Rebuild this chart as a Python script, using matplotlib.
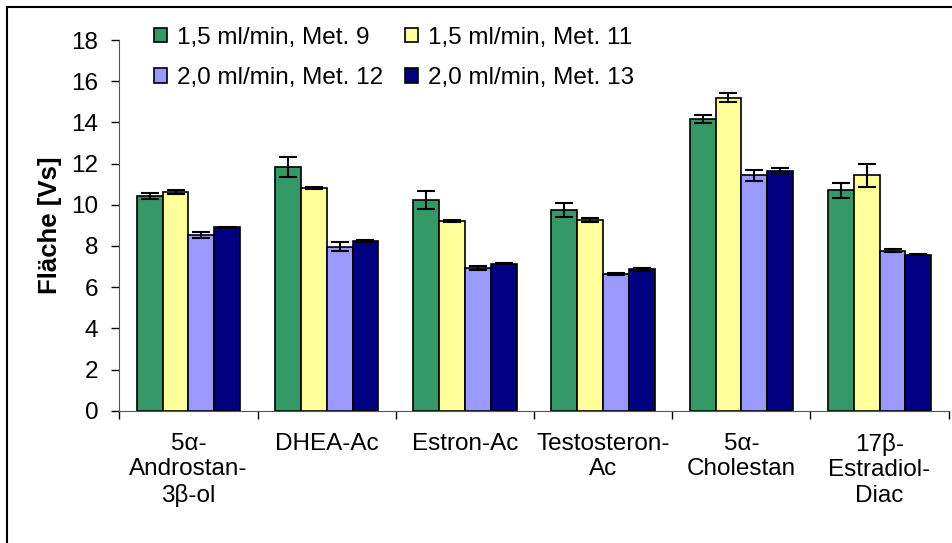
import numpy as np
import matplotlib
matplotlib.use("Agg")
import matplotlib.pyplot as plt
from matplotlib.patches import Rectangle

plt.rcParams['font.family'] = ['Liberation Sans', 'DejaVu Sans']

# Kategorien und Messwerte
substanzen = ["5α-\nAndrostan-\n3β-ol", "DHEA-Ac", "Estron-Ac", "Testosteron-\nAc", "5α-\nCholestan", "17β-\nEstradiol-\nDiac"]
serien = ["1,5 ml/min, Met. 9", "1,5 ml/min, Met. 11", "2,0 ml/min, Met. 12", "2,0 ml/min, Met. 13"]
met9 = [10.44, 11.82, 10.23, 9.74, 14.18, 10.70]
met11 = [10.60, 10.80, 9.20, 9.27, 15.20, 11.43]
met12 = [8.54, 7.97, 6.94, 6.65, 11.43, 7.77]
met13 = [8.90, 8.24, 7.14, 6.86, 11.64, 7.58]
fehler9 = [0.15, 0.48, 0.42, 0.35, 0.20, 0.35]
fehler11 = [0.10, 0.04, 0.04, 0.10, 0.22, 0.55]
fehler12 = [0.15, 0.20, 0.10, 0.06, 0.28, 0.06]
fehler13 = [0.02, 0.04, 0.03, 0.08, 0.15, 0.03]
farben = ["#339966", "#FFFF99", "#9999FF", "#000080"]

werte = [met9, met11, met12, met13]
fehler = [fehler9, fehler11, fehler12, fehler13]

fig = plt.figure(figsize=(9.53, 5.43), dpi=100)
ax = fig.add_axes([0.1252, 0.2436, 0.8703, 0.6827])

x = np.arange(len(substanzen))
breite = 0.187
balken = []
for i in range(4):
    pos = x + (i - 1.5) * breite
    b = ax.bar(pos, werte[i], breite, color=farben[i], edgecolor="black", linewidth=1.2, zorder=2)
    ax.errorbar(pos, werte[i], yerr=fehler[i], fmt="none", ecolor="black", elinewidth=1.5,
                capsize=6.5, capthick=1.5, zorder=3)
    balken.append(b)

ax.set_xlim(-0.5, len(substanzen) - 0.5)
ax.set_ylim(0, 18)
ax.set_yticks(np.arange(0, 19, 2))
ax.tick_params(axis="y", labelsize=17.5, direction="out", length=6, width=1, pad=9)
ax.set_xticks(x)
ax.set_xticklabels(substanzen, fontsize=17.5, linespacing=1.2)
ax.tick_params(axis="x", which="major", length=0, pad=16)
ax.set_xticks(np.arange(-0.5, len(substanzen), 1), minor=True)
ax.tick_params(axis="x", which="minor", length=6, width=1, direction="out")
ax.spines["top"].set_visible(False)
ax.spines["right"].set_visible(False)
ax.spines["left"].set_color("#555555")
ax.spines["bottom"].set_color("#555555")
ax.set_ylabel("Fläche [Vs]", fontsize=18.5, fontweight="bold", labelpad=7)

# Legende in zwei Spalten (Spaltenweise befuellt)
ax.legend([balken[0], balken[2], balken[1], balken[3]],
          [serien[0], serien[2], serien[1], serien[3]],
          ncol=2, frameon=False, fontsize=17.5, loc="upper left",
          bbox_to_anchor=(0.015, 1.095), handlelength=0.55, handleheight=0.55,
          handletextpad=0.4, columnspacing=0.9, labelspacing=0.75)

fig.patches.append(Rectangle((7 / 953, -0.1), 1.1, 1.1 - 7.5 / 543, transform=fig.transFigure,
                             fill=False, edgecolor="black", linewidth=1.5))

fig.savefig("out.png", dpi=100)
